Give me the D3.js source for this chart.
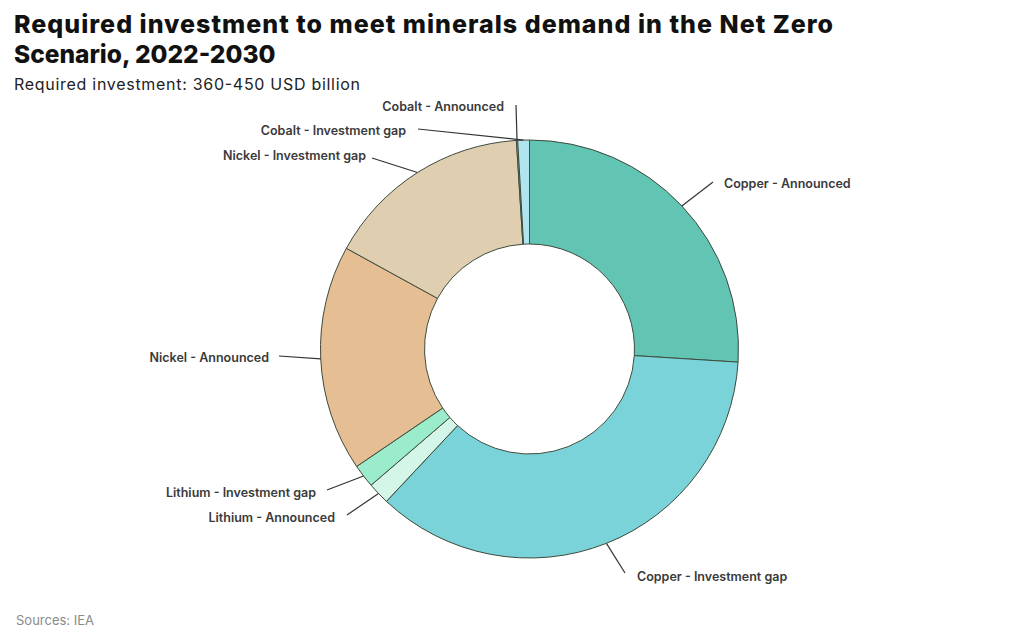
<!DOCTYPE html>
<html><head><meta charset="utf-8">
<script src="https://cdn.jsdelivr.net/npm/d3@7"></script>
<style>
body{margin:0;background:#fff;}
svg{display:block;}
</style></head>
<body>
<svg id="c" width="1024" height="640"></svg>
<script>
// Data (share of required investment, %)
const categories = ["Copper - Announced","Copper - Investment gap","Lithium - Announced","Lithium - Investment gap","Nickel - Announced","Nickel - Investment gap","Cobalt - Announced","Cobalt - Investment gap"];
const values = [26.0, 36.0, 1.7, 1.8, 17.5, 16.0, 0.1, 0.9];
const colors = ["#62c4b3","#79d3d8","#d3f6e8","#9becca","#e5bf93","#dfcfb0","#b0e5ef","#b0e5ef"];

// Label layout (text anchor point, leader end point)
const labelLayout = [
  {tx:724, ty:184, anchor:"start", lx:713, ly:182},
  {tx:637, ty:577, anchor:"start", lx:625, ly:573},
  {tx:335, ty:518, anchor:"end", lx:347, ly:515},
  {tx:316, ty:493, anchor:"end", lx:327, ly:490},
  {tx:269, ty:358, anchor:"end", lx:279, ly:356},
  {tx:366, ty:156, anchor:"end", lx:372, ly:158},
  {tx:504, ty:107, anchor:"end", lx:516, ly:105},
  {tx:406, ty:131, anchor:"end", lx:418, ly:129}
];

const svg = d3.select("#c");
const cx = 529.5, cy = 349, rOuter = 209, rInner = 105;

svg.append("text").attr("x",14).attr("y",33)
  .attr("font-family","Inter, 'DejaVu Sans', sans-serif").attr("font-weight",800)
  .attr("font-size",25).attr("fill","#111")
  .attr("textLength",819).attr("lengthAdjust","spacing")
  .text("Required investment to meet minerals demand in the Net Zero");
svg.append("text").attr("x",14).attr("y",63)
  .attr("font-family","Inter, 'DejaVu Sans', sans-serif").attr("font-weight",800)
  .attr("font-size",24.5).attr("fill","#111")
  .text("Scenario, 2022-2030");
svg.append("text").attr("x",14).attr("y",90)
  .attr("font-family","Inter, 'DejaVu Sans', sans-serif").attr("font-weight",400)
  .attr("font-size",16).attr("fill","#222")
  .attr("textLength",346).attr("lengthAdjust","spacing")
  .text("Required investment: 360-450 USD billion");
svg.append("text").attr("x",16).attr("y",625)
  .attr("font-family","Inter, 'DejaVu Sans', sans-serif").attr("font-weight",400)
  .attr("font-size",13).attr("fill","#8a8a8a")
  .text("Sources: IEA");

const data = categories.map((c,i)=>({name:c, value:values[i], color:colors[i], layout:labelLayout[i]}));
const pie = d3.pie().value(d=>d.value).sort(null);
const arcs = pie(data);
const arc = d3.arc().innerRadius(rInner).outerRadius(rOuter);

const g = svg.append("g").attr("transform",`translate(${cx},${cy})`);
g.selectAll("path.slice").data(arcs).join("path")
  .attr("class","slice")
  .attr("d",arc)
  .attr("fill",d=>d.data.color)
  .attr("stroke","#3e4a3c").attr("stroke-width",1);

// Leader lines and labels
arcs.forEach(a=>{
  const mid = (a.startAngle + a.endAngle)/2;
  const x0 = cx + rOuter*Math.sin(mid), y0 = cy - rOuter*Math.cos(mid);
  const L = a.data.layout;
  svg.append("line").attr("x1",x0).attr("y1",y0).attr("x2",L.lx).attr("y2",L.ly)
    .attr("stroke","#333").attr("stroke-width",1.2);
  svg.append("text").attr("x",L.tx).attr("y",L.ty).attr("dy","0.35em")
    .attr("text-anchor",L.anchor)
    .attr("font-family","Inter, 'Liberation Sans', sans-serif").attr("font-weight",600)
    .attr("font-size",12.5).attr("fill","#3a3a3a")
    .text(a.data.name);
});
</script>
</body></html>
